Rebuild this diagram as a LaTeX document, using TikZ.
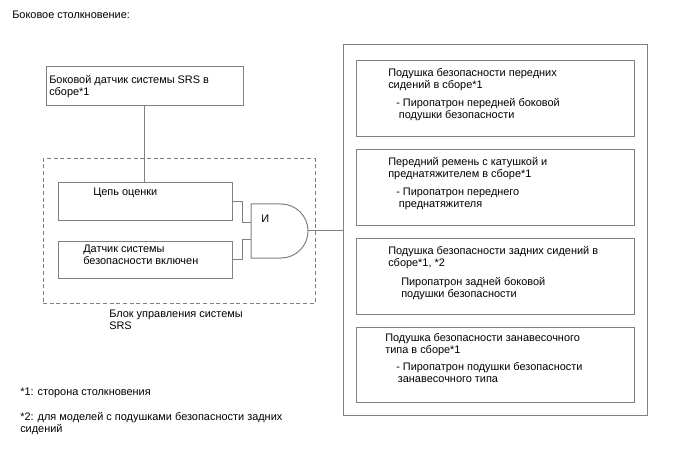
\documentclass[tikz,border=0pt]{standalone}
\usepackage{fontspec}
\setmainfont{Liberation Sans}
\usetikzlibrary{fit}
\definecolor{linegray}{RGB}{128,128,128}
\begin{document}
\begin{tikzpicture}[x=0.75pt,y=-0.75pt,line join=miter,
    every node/.style={font=\fontsize{8.2}{9}\selectfont},
    box/.style={draw=linegray,line width=0.75pt,inner sep=0pt},
    txt/.style={anchor=north west,inner sep=0pt,align=left},
    wire/.style={draw=linegray,line width=0.75pt}]
  \useasboundingbox (0,0) rectangle (688,463);
  \node[txt] (title) at (12,11) {Боковое столкновение:};
  % sensor and ECU
  \node[box,fit={(46,67) (243,106)}] (sensor) {};
  \node[txt] (sensortxt) at (49,75) {Боковой датчик системы SRS в\\сборе*1};
  \node[box,dashed,dash pattern=on 3pt off 2pt,fit={(43,159) (315,303)}] (ecu) {};
  \node[txt] (ecutxt) at (109,310) {Блок управления системы\\SRS};
  \node[box,fit={(58,183) (232,221)}] (evalc) {};
  \node[txt] (evaltxt) at (93,188) {Цепь оценки};
  \node[box,fit={(58,241) (232,278)}] (safing) {};
  \node[txt] (safingtxt) at (83,245) {Датчик системы\\безопасности включен};
  % AND gate
  \coordinate (gtop) at (251,204);
  \coordinate (in1) at (251,223);
  \coordinate (in2) at (251,239);
  \coordinate (gout) at (308,231);
  \draw[wire] (gtop) -- (281,204) arc[start angle=90,end angle=-90,radius=20.25pt] -- (251,258) -- cycle;
  \node[txt] (andtxt) at (261,215) {И};
  \draw[wire] (sensor.south) -- (sensor.south |- evalc.north);
  \draw[wire] (evalc.east) -- ++(10,0) |- (in1);
  \draw[wire] (safing.east) -- ++(10,0) |- (in2);
  % airbags
  \node[box,fit={(343,45) (647,415)}] (bigbox) {};
  \draw[wire] (gout) -- (gout -| bigbox.west);
  \node[box,fit={(356,61) (634,137)}] (frontbag) {};
  \node[txt] (fronttxt) at (388,68) {Подушка безопасности передних\\сидений в сборе*1};
  \node[txt] (frontsub) at (396,98) {- Пиропатрон передней боковой\\\hspace*{5\pgflinewidth}подушки безопасности};
  \node[box,fit={(356,150) (634,226)}] (pretens) {};
  \node[txt] (pretenstxt) at (388,157) {Передний ремень с катушкой и\\преднатяжителем в сборе*1};
  \node[txt] (pretenssub) at (396,188) {- Пиропатрон переднего\\\hspace*{5\pgflinewidth}преднатяжителя};
  \node[box,fit={(356,238) (634,314)}] (rearbag) {};
  \node[txt] (reartxt) at (388,246) {Подушка безопасности задних сидений в\\сборе*1, *2};
  \node[txt] (rearsub) at (401,277) {Пиропатрон задней боковой\\подушки безопасности};
  \node[box,fit={(356,327) (634,402)}] (curtain) {};
  \node[txt] (curtaintxt) at (385,333) {Подушка безопасности занавесочного\\типа в сборе*1};
  \node[txt] (curtainsub) at (396,362) {- Пиропатрон подушки безопасности\\\hspace*{3\pgflinewidth}занавесочного типа};
  % notes
  \node[txt] (note1) at (20,388) {*1: сторона столкновения};
  \node[txt] (note2) at (20,412) {*2: для моделей с подушками безопасности задних\\сидений};
\end{tikzpicture}
\end{document}
